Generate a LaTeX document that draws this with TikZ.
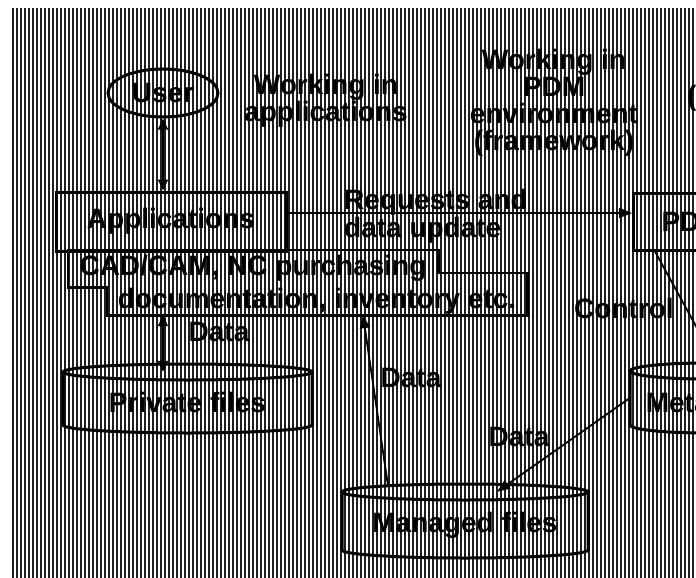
\documentclass[tikz,border=0pt]{standalone}
\usepackage{fontspec}
\setmainfont{Liberation Sans}
\usetikzlibrary{arrows.meta,shapes.geometric,calc}

% cylinder outline: left x, right x, top-ellipse centre y, lowest point y
\newcommand\drumoutline[4]{%
  \draw[drumline] ({(#1+#2)/2},#3) ellipse [x radius={(#2-#1)/2}, y radius=8];
  \draw[drumline] (#1,#3) -- (#1,#4-8)
    arc [start angle=180, end angle=0, x radius={(#2-#1)/2}, y radius=8] -- (#2,#3);
}

\begin{document}
\begin{tikzpicture}[x=1pt,y=-1pt,
  lbl/.style={font=\bfseries\fontsize{28}{27}\selectfont, inner sep=0pt, align=center},
  box/.style={lbl, draw, line width=3pt},
  drumline/.style={line width=3pt},
  hatch/.style={line width=1.8pt, black!88},
  conn/.style={line width=1.8pt, -{Triangle[length=13pt,width=10pt]}},
  bothconn/.style={line width=2.2pt, {Triangle[length=11pt,width=10pt]}-{Triangle[length=11pt,width=10pt]}},
  outline/.style={line width=2.6pt, line join=miter}
]
\useasboundingbox (0,0) rectangle (696,578);
\clip (0,0) rectangle (696,578);

% striped ground
\foreach \i in {0,...,171} \draw[hatch] ({13+4*\i},8) -- ({13+4*\i},578);

% headings
\node[lbl] (hApp) at (326,101) {Working in\\applications};
\node[lbl] (hPdm) at (554,102.5) {Working in\\PDM\\environment\\(framework)};
\node[lbl, anchor=west] (hRight) at (687,98) {(};

% user and applications
\node[lbl, draw, ellipse, line width=3pt, minimum width=110pt, minimum height=48pt] (user) at (163,93) {User};
\node[box, minimum width=230pt, minimum height=59pt] (apps) at (171,221.5) {Applications};
\draw[bothconn] (user.south) -- (user.south |- apps.north);

% application list
\node[lbl, minimum width=370pt, minimum height=37pt] (desc1) at (253,268.5) {CAD/CAM, NC purchasing};
\node[lbl, minimum width=420pt, minimum height=28pt] (desc2) at (317,301) {documentation, inventory etc.};
\coordinate (step) at ([yshift=-23pt]desc1.north east);
\draw[outline] (desc1.north west) -- (desc1.north east) -- (step) -- (step -| desc2.east)
  -- (desc2.south east) -- (desc2.south west) -- (desc2.west |- desc1.south)
  -- (desc1.south west) -- cycle;

% PDM system box
\node[box, anchor=west, minimum height=57pt, inner xsep=28pt] (pdm) at (632,221.5) {PDM};
\draw[conn] ([yshift=8.5pt]apps.east) -- ([yshift=8.5pt]pdm.west);
\node[lbl, align=left, anchor=west, font=\bfseries\fontsize{28}{28}\selectfont] (reqlbl) at (344,216) {Requests and\\data update};

% file stores
\node[lbl, minimum width=249pt, minimum height=61pt] (pf) at (187.5,402.5) {Private files};
\drumoutline{63}{312}{372}{433}
\node[lbl, minimum width=246pt, minimum height=66pt] (mf) at (465,525) {Managed files};
\drumoutline{342}{588}{492}{558}
\node[lbl, minimum width=153pt, minimum height=62pt] (md) at (706.5,402) {Metadata};
\drumoutline{630}{783}{371}{433}

% data flows
\draw[bothconn, line width=1.9pt] (user.south |- desc2.south) -- (user.south |- pf.north);
\node[lbl] (dataA) at (219,332) {Data};
\draw[conn] ([xshift=-77pt,yshift=6pt]mf.north) -- ([xshift=46pt]desc2.south);
\node[lbl] (dataB) at (411,378) {Data};
\draw[conn] ([yshift=4pt]md.west) -- ([xshift=32pt]mf.north);
\node[lbl] (dataC) at (519,437) {Data};
\draw[conn] ([xshift=23pt]pdm.south west) -- ([xshift=14pt]md.north);
\node[lbl] (ctrl) at (624,308) {Control};
\end{tikzpicture}
\end{document}
